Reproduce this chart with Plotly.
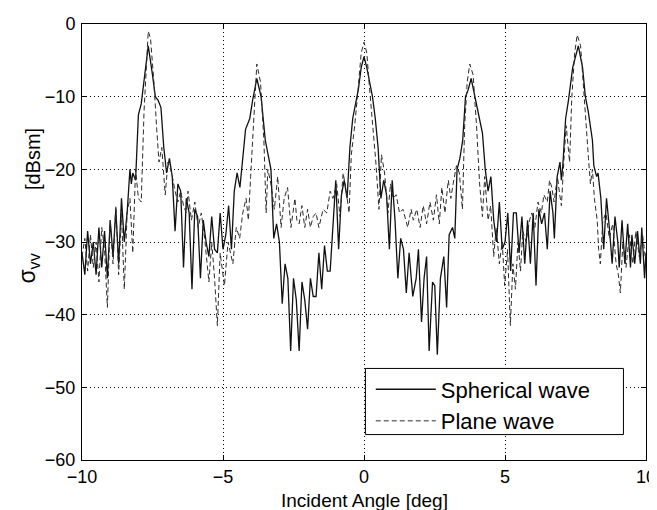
import plotly.graph_objects as go

# ---- data ----
sph_x = [-10.0,-9.9,-9.8,-9.7,-9.6,-9.5,-9.4,-9.3,-9.2,-9.1,-9.0,-8.9,-8.8,-8.7,-8.6,-8.5,-8.4,-8.3,-8.25,-8.2,-8.1,-8.0,-7.9,-7.8,-7.65,-7.5,-7.4,-7.3,-7.2,-7.1,-7.0,-6.9,-6.8,-6.7,-6.6,-6.5,-6.4,-6.3,-6.2,-6.1,-6.0,-5.9,-5.8,-5.7,-5.6,-5.5,-5.4,-5.3,-5.2,-5.1,-5.0,-4.9,-4.8,-4.7,-4.6,-4.5,-4.4,-4.2,-4.05,-3.95,-3.8,-3.65,-3.5,-3.4,-3.3,-3.2,-3.1,-3.0,-2.9,-2.8,-2.7,-2.6,-2.5,-2.4,-2.3,-2.2,-2.1,-2.0,-1.9,-1.8,-1.7,-1.6,-1.5,-1.4,-1.3,-1.2,-1.1,-1.0,-0.9,-0.8,-0.7,-0.6,-0.5,-0.4,-0.3,-0.2,-0.1,0.0,0.1,0.2,0.3,0.4,0.5,0.6,0.7,0.8,0.9,1.0,1.1,1.2,1.3,1.4,1.5,1.6,1.73,1.85,1.93,2.04,2.13,2.22,2.31,2.43,2.51,2.6,2.71,2.83,2.93,3.02,3.14,3.22,3.3,3.4,3.5,3.6,3.7,3.8,3.95,4.1,4.2,4.3,4.4,4.5,4.6,4.7,4.8,4.9,5.0,5.1,5.2,5.3,5.4,5.5,5.6,5.7,5.8,5.9,6.0,6.1,6.2,6.3,6.4,6.5,6.6,6.7,6.75,6.85,6.95,7.0,7.05,7.15,7.25,7.4,7.6,7.75,7.85,7.95,8.1,8.15,8.25,8.3,8.4,8.5,8.6,8.7,8.8,8.9,9.0,9.05,9.15,9.25,9.35,9.45,9.5,9.6,9.7,9.8,9.85,9.95,10.0]
sph_y = [-31.5,-34.5,-28.5,-33,-30,-34.5,-28,-33.5,-28.5,-35,-27,-32,-25.5,-33,-24,-30,-26,-20,-22,-20.5,-21.5,-12.5,-11,-8,-3,-7,-10,-10.5,-11.5,-17,-20.5,-18.5,-21,-28.5,-22,-23,-33.5,-24,-26,-36.5,-25.5,-26.5,-35,-27,-30,-32,-26.5,-31,-31.5,-26,-31,-29,-25,-31,-23,-20.5,-22.5,-14.5,-13,-10.5,-7.5,-10,-16,-18,-20,-29.5,-27.5,-30,-38.5,-33,-35,-45,-35,-38,-45,-35.5,-38,-42,-35,-37.5,-37.5,-31.5,-36.5,-30.5,-34,-34,-27,-21.5,-31,-23.5,-21.5,-24,-17,-13,-11,-9,-6,-4.5,-6,-8,-10,-13,-17,-24,-21.5,-23.5,-31,-21.5,-27,-35,-29.5,-31,-37,-31.5,-37.5,-35,-31,-41,-35,-32,-45,-35.5,-36,-45.5,-35,-32,-39,-29,-28,-29.5,-20,-18.5,-16,-10,-9,-7.5,-10.5,-13,-15,-20,-23,-21,-27,-30,-24.5,-31,-30,-26,-34,-26,-26,-31.5,-26.5,-33,-27,-33,-26,-36,-25.5,-27.5,-26,-31,-23,-26,-29.5,-21,-19,-21.5,-19.5,-13,-10.5,-6,-3,-6,-10,-12,-16,-19.5,-21,-20.5,-24,-31,-24,-28,-33,-26.5,-30,-33.5,-27,-33,-27.5,-33.5,-29,-33,-28.5,-33,-28,-35,-31.5]

pla_x = [-10.0,-9.9,-9.8,-9.7,-9.6,-9.5,-9.4,-9.3,-9.2,-9.1,-9.0,-8.9,-8.8,-8.7,-8.6,-8.5,-8.4,-8.3,-8.2,-8.1,-8.0,-7.9,-7.8,-7.72,-7.65,-7.57,-7.45,-7.35,-7.27,-7.17,-7.05,-6.95,-6.82,-6.7,-6.6,-6.5,-6.4,-6.3,-6.24,-6.12,-6.0,-5.88,-5.77,-5.65,-5.5,-5.4,-5.3,-5.2,-5.1,-4.95,-4.82,-4.65,-4.53,-4.41,-4.3,-4.18,-4.1,-4.02,-3.9,-3.8,-3.67,-3.55,-3.47,-3.41,-3.3,-3.18,-3.06,-2.94,-2.83,-2.71,-2.59,-2.45,-2.38,-2.3,-2.2,-2.1,-2.0,-1.9,-1.8,-1.7,-1.6,-1.45,-1.32,-1.2,-1.1,-0.97,-0.85,-0.74,-0.63,-0.53,-0.45,-0.33,-0.21,-0.1,0.0,0.1,0.2,0.32,0.42,0.53,0.62,0.73,0.85,0.94,1.03,1.14,1.26,1.38,1.55,1.67,1.75,1.87,1.99,2.1,2.22,2.34,2.46,2.57,2.67,2.76,2.87,2.99,3.08,3.16,3.28,3.38,3.49,3.57,3.66,3.75,3.87,3.99,4.1,4.2,4.28,4.4,4.49,4.6,4.69,4.8,4.9,4.99,5.09,5.19,5.28,5.37,5.46,5.55,5.63,5.75,5.87,5.95,6.06,6.17,6.29,6.38,6.5,6.58,6.66,6.74,6.86,6.94,7.0,7.1,7.17,7.29,7.37,7.47,7.56,7.68,7.8,7.88,7.96,8.03,8.1,8.17,8.27,8.32,8.38,8.47,8.58,8.7,8.82,8.94,9.02,9.09,9.18,9.29,9.41,9.53,9.64,9.76,9.88,10.0]
pla_y = [-32,-29.5,-34,-29,-33.5,-30,-35.5,-28,-31,-39,-27,-33,-25,-34.5,-26,-36.5,-26,-24,-31.5,-20,-24,-24.5,-12,-5,-1,-2,-8,-14.5,-19,-17,-23.5,-19,-20.5,-23,-24.5,-23,-25,-26,-23,-27,-24.5,-28,-26,-29.5,-35.5,-30,-35,-41.5,-31.5,-36,-30,-33,-28,-29.5,-26,-24,-27,-21,-12,-5.5,-8,-16,-26,-20,-22,-25.5,-21,-28,-24,-22.5,-28,-24,-27,-27.5,-25,-28,-25.5,-28,-26.5,-26,-28,-25.5,-26,-23,-24,-22,-26.5,-20.5,-23,-26,-18,-14,-9,-4,-2.5,-4,-9,-14,-19,-25.5,-18,-20.5,-26,-22,-24,-23.5,-26,-25.5,-28,-25.5,-27,-25.5,-28,-25,-27.5,-24.5,-27,-23.5,-27.5,-22.5,-26,-21.5,-24,-22,-19.5,-20.5,-25.5,-14,-8,-5.5,-7,-14,-22,-26.5,-21,-27,-25,-32,-28,-33,-30,-36,-31,-41.5,-33,-36.5,-30,-34,-28.5,-30,-27,-26,-28,-24.5,-26,-23.5,-24.5,-21.5,-22.5,-24.5,-21,-23.5,-25,-18,-14,-19,-10,-4,-1.5,-3,-9,-14,-18.5,-22,-20,-24,-27,-31,-33,-27,-26,-29.5,-27.5,-33,-34.5,-37,-30,-33.5,-29,-33,-28.5,-32,-29,-33]

x_ticks = [-10, -5, 0, 5, 10]
y_ticks = [0, -10, -20, -30, -40, -50, -60]
series_names = ["Spherical wave", "Plane wave"]

FONT = "Liberation Sans, Arial, Helvetica, sans-serif"

fig = go.Figure()
fig.add_trace(go.Scatter(x=sph_x, y=sph_y, mode="lines", name=series_names[0],
                         line=dict(color="#111111", width=1.3)))
fig.add_trace(go.Scatter(x=pla_x, y=pla_y, mode="lines", name=series_names[1],
                         line=dict(color="#2a2a2a", width=1, dash="5px,3px")))

axis_common = dict(showline=True, linecolor="black", linewidth=1, mirror="ticks",
                   ticks="inside", ticklen=5, tickcolor="black",
                   showgrid=True, gridcolor="black", griddash="1px,3px", gridwidth=1,
                   zeroline=False, automargin=False,
                   tickfont=dict(family=FONT, size=18, color="black"))

fig.update_xaxes(range=[-10, 10], tickvals=x_ticks, ticklabelstandoff=0, **axis_common)
fig.update_yaxes(range=[-60, 0], tickvals=y_ticks, ticklabelstandoff=2, **axis_common)

# axis titles
fig.add_annotation(x=0.5, y=-0.066, xref="paper", yref="paper", text="Incident Angle [deg]",
                   showarrow=False, xanchor="center", yanchor="top", borderpad=0,
                   font=dict(family=FONT, size=19, color="black"))
fig.add_annotation(x=-0.095, y=0.44, xref="paper", yref="paper", text="σ<sub>vv</sub>",
                   showarrow=False, textangle=-90, xanchor="center", yanchor="middle",
                   font=dict(family=FONT, size=23, color="black"))
fig.add_annotation(x=-0.087, y=0.69, xref="paper", yref="paper", text="[dBsm]",
                   showarrow=False, textangle=-90, xanchor="center", yanchor="middle",
                   font=dict(family=FONT, size=20, color="black"))

# legend box (in data units so it sits on the axes)
fig.add_shape(type="rect", xref="x", yref="y", x0=0.05, x1=9.2, y0=-56.5, y1=-47.4,
              line=dict(color="black", width=1), fillcolor="white", layer="above")
fig.update_layout(
    width=657, height=510,
    margin=dict(l=74, r=19, t=16, b=58),
    paper_bgcolor="white", plot_bgcolor="white",
    showlegend=True,
    legend=dict(x=0.512, y=0.21, xanchor="left", yanchor="top", bgcolor="rgba(0,0,0,0)",
                borderwidth=0, font=dict(family=FONT, size=22, color="black"),
                itemwidth=60, tracegroupgap=0),
)

fig.write_html("out.html")
